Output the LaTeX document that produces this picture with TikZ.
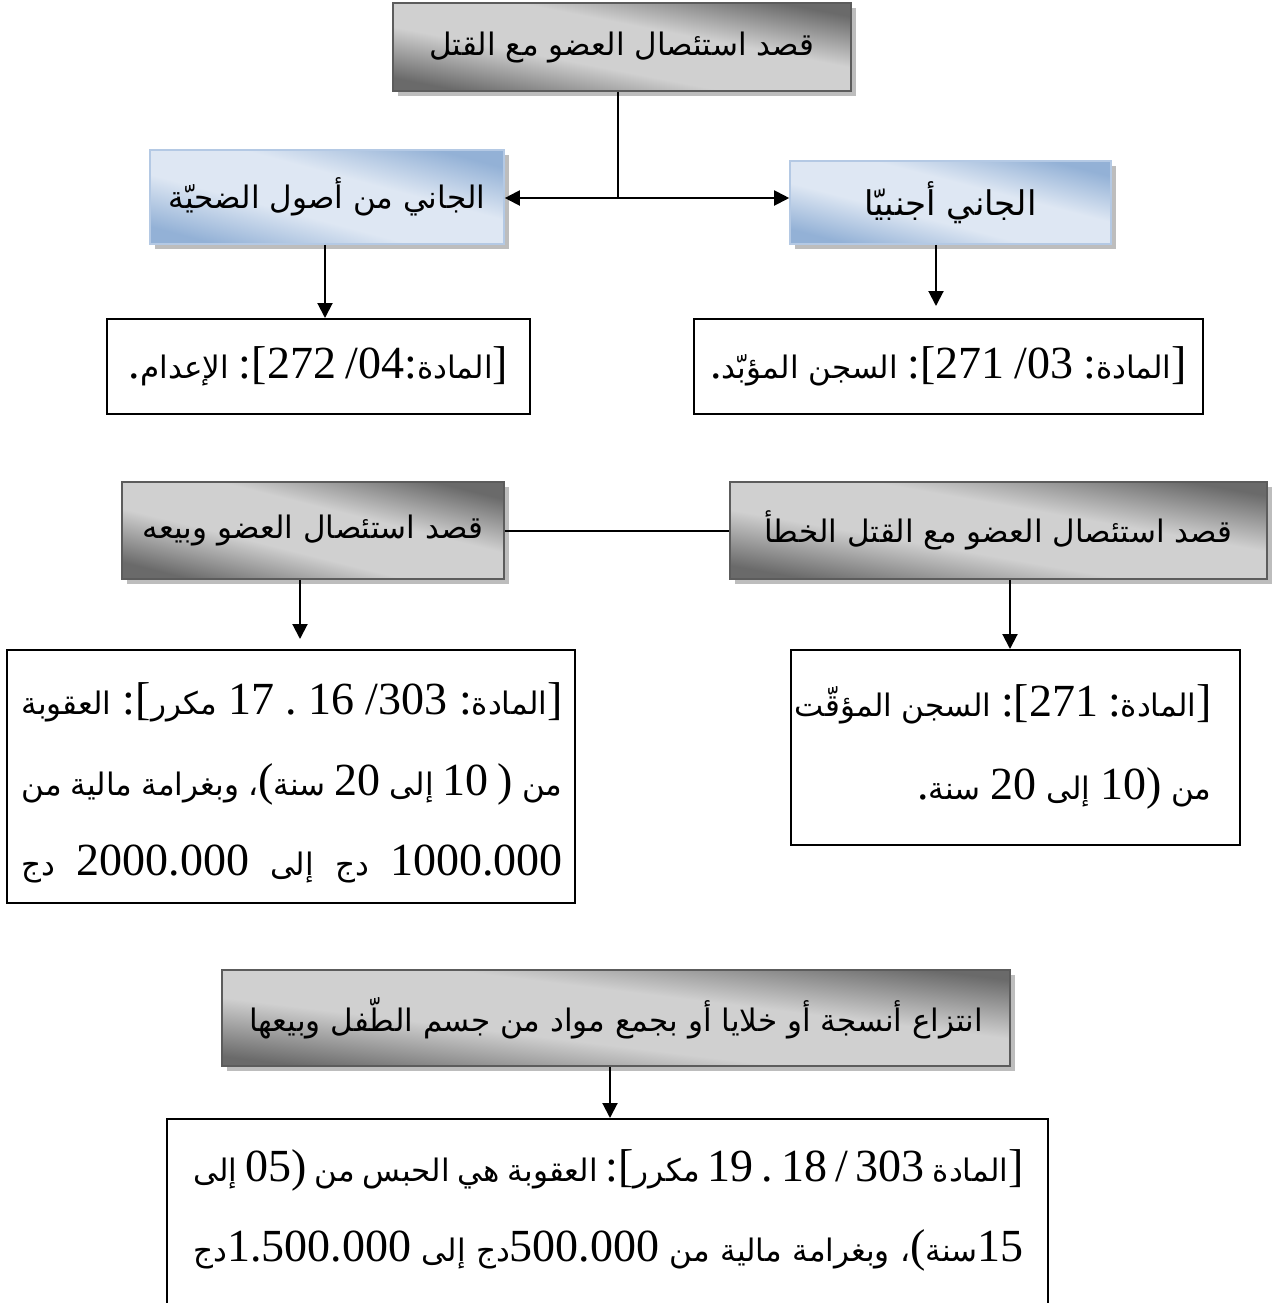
\documentclass[tikz,border=0pt]{standalone}
\usepackage{fontspec}
\setmainfont{Liberation Serif}
\newfontfamily\arabicfont[Script=Arabic]{DejaVu Sans}
\TeXXeTstate=1
\usetikzlibrary{arrows.meta,shadows,calc}
\definecolor{gdark}{HTML}{6A6A6A}
\definecolor{glight}{HTML}{D0D0D0}
\definecolor{bdark}{HTML}{93B1D6}
\definecolor{blight}{HTML}{DEE7F3}
\definecolor{bline}{HTML}{B4C9E4}
\definecolor{gline}{HTML}{5C5C5C}
\definecolor{shadowc}{HTML}{BDBDBD}
\pgfdeclareverticalshading{grayshade}{100bp}{color(0bp)=(gdark); color(25bp)=(gdark); color(42bp)=(glight); color(58bp)=(glight); color(75bp)=(gdark); color(100bp)=(gdark)}
\pgfdeclareverticalshading{blueshade}{100bp}{color(0bp)=(bdark); color(25bp)=(bdark); color(42bp)=(blight); color(58bp)=(blight); color(75bp)=(bdark); color(100bp)=(bdark)}
\newcommand\arsize{\fontsize{15.5}{19}\selectfont}
\newcommand\numsize{\fontsize{23}{27}\selectfont}
\newcommand\N[1]{\mbox{\rmfamily\numsize #1}}
\newcommand\RL[1]{{\arabicfont\arsize\beginR #1\endR}}
\newcommand\JL[2]{\hbox to #1{\arabicfont\arsize\beginR #2\endR}}
\tikzset{
  graybox/.style={draw=gline, line width=0.8pt, shade, shading=grayshade, shading angle=#1,
    general shadow={fill=shadowc, shadow xshift=2.5pt, shadow yshift=-2.5pt}, inner sep=0pt},
  bluebox/.style={draw=bline, line width=0.8pt, shade, shading=blueshade, shading angle=#1,
    general shadow={fill=shadowc, shadow xshift=2.5pt, shadow yshift=-2.5pt}, inner sep=0pt},
  resbox/.style={draw=black, line width=1pt, fill=white, inner sep=0pt},
  conn/.style={line width=1pt, draw=black},
  arr/.style={conn, -{Triangle[length=7.5pt,width=7.5pt]}},
  txtline/.style={inner sep=0pt, anchor=east},
}
\begin{document}
\begin{tikzpicture}[x=0.5pt, y=-0.5pt]
\useasboundingbox[fill=white] (0,0) rectangle (1281,1303);

% top row
\node[graybox=-11, minimum width=229pt, minimum height=44pt] (T) at (622,47)
  {\RL{قصد استئصال العضو مع القتل}};
\node[bluebox=-15, minimum width=177pt, minimum height=47pt] (LB) at (327,197)
  {\RL{الجاني من أصول الضحيّة}};
\node[bluebox=-14.5, minimum width=160.5pt, minimum height=41.5pt] (RB) at (950.5,202.5)
  {\RL{\fontsize{17}{20}\selectfont الجاني أجنبيّا}};
\node[resbox, minimum width=211.5pt, minimum height=47.5pt] (LR) at (318.5,366.5)
  {\RL{\N{]}المادة\N{:}\N{04}\N{/} \N{272}\N{[}\N{:} الإعدام\N{.}}};
\node[resbox, minimum width=254.5pt, minimum height=47.5pt] (RR) at (948.5,366.5)
  {\RL{\N{]}المادة\N{:} \N{03}\N{/} \N{271}\N{[}\N{:} السجن المؤبّد\N{.}}};

% middle row
\node[graybox=-14, minimum width=191pt, minimum height=48.5pt] (ML) at (313,530.5)
  {\RL{قصد استئصال العضو وبيعه}};
\node[graybox=-10, minimum width=268.5pt, minimum height=48.5pt] (MR) at (998.5,530.5)
  {\RL{قصد استئصال العضو مع القتل الخطأ}};
\node[resbox, minimum width=284pt, minimum height=126.5pt] (MLR) at (291,776.5) {};
\node[txtline] (MLR1) at (563,702)
  {\JL{270.5pt}{\N{]}المادة\N{:} \N{303}\N{/} \N{16} \N{.} \N{17} مكرر\N{[}\N{:} العقوبة}};
\node[txtline] (MLR2) at (563,784)
  {\JL{270.5pt}{من \N{)} \N{10} إلى \N{20} سنة\N{(}، وبغرامة مالية من}};
\node[txtline] (MLR3) at (563,864)
  {\JL{270.5pt}{\N{1000.000} دج إلى \N{2000.000} دج}};
\node[resbox, minimum width=224.5pt, minimum height=97.5pt] (MRR) at (1015.5,747.5) {};
\node[txtline] (MRR1) at (1212,704)
  {\RL{\N{]}المادة\N{:} \N{271}\N{[}\N{:} السجن المؤقّت}};
\node[txtline] (MRR2) at (1212,788)
  {\RL{من \N{)}\N{10} إلى \N{20} سنة\N{.}}};

% bottom
\node[graybox=-7, minimum width=394pt, minimum height=48pt] (BG) at (616,1018)
  {\RL{انتزاع أنسجة أو خلايا أو بجمع مواد من جسم الطّفل وبيعها}};
\node[resbox, minimum width=440.5pt, minimum height=105.5pt] (BR) at (607.5,1224.5) {};
\node[txtline] (BR1) at (1024,1170)
  {\JL{415pt}{\N{]}المادة \N{303} \N{/} \N{18} \N{.} \N{19} مكرر\N{[}\N{:} العقوبة هي الحبس من \N{)}\N{05} إلى}};
\node[txtline] (BR2) at (1024,1250)
  {\JL{415pt}{\N{15}سنة\N{(}، وبغرامة مالية من \N{500.000}دج إلى \N{1.500.000}دج}};

% connectors
\coordinate (J) at (618,198);
\coordinate (xa) at (325,0);
\coordinate (xb) at (936,0);
\coordinate (xc) at (300,0);
\coordinate (xd) at (1010,0);
\coordinate (xe) at (610,0);
\draw[conn] (T.south -| J) -- (J);
\draw[arr] (J) -- (LB.east |- J);
\draw[arr] (J) -- (RB.west |- J);
\draw[arr] (LB.south -| xa) -- (LR.north -| xa);
\draw[arr] (RB.south -| xb) -- ($(RR.north -| xb)+(0,6pt)$);
\draw[conn] (ML.east) -- (MR.west);
\draw[arr] (ML.south -| xc) -- ($(MLR.north -| xc)+(0,5pt)$);
\draw[arr] (MR.south -| xd) -- (MRR.north -| xd);
\draw[arr] (BG.south -| xe) -- (BR.north -| xe);
\end{tikzpicture}
\end{document}
